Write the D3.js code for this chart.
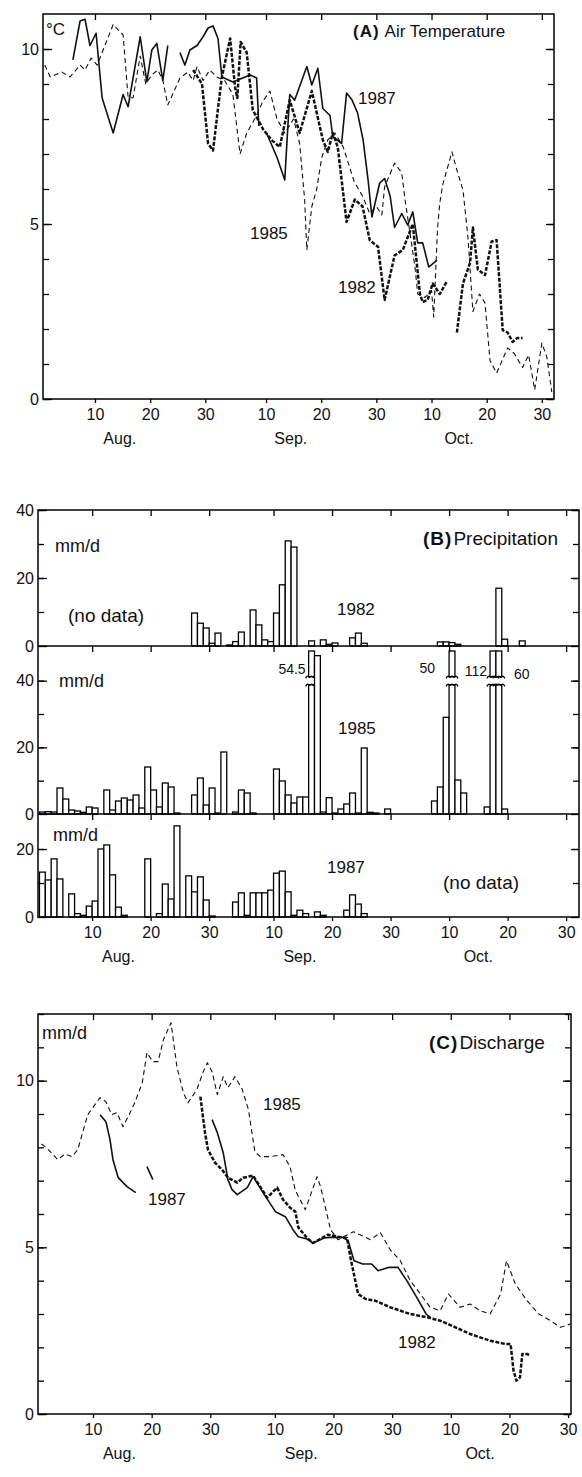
<!DOCTYPE html>
<html><head><meta charset="utf-8">
<script src="https://cdn.jsdelivr.net/npm/d3@7"></script>
<style>
body{margin:0;background:#fff}
svg{display:block}
text{font-family:"Liberation Sans",Arial,Helvetica,sans-serif;fill:#111}
</style></head>
<body><svg id="c" width="582" height="1477"></svg>
<script>
// ---------------- DATA ----------------
// day index: Aug 1 = 1, Sep 1 = 32, Oct 1 = 62
const xTickDays = [10, 20, 30, 41, 51, 61, 71, 81, 91];
const xTickLabels = ["10", "20", "30", "10", "20", "30", "10", "20", "30"];
const monthNames = ["Aug.", "Sep.", "Oct."];
const monthDays = [14.5, 45.5, 76];

// (A) Air temperature, [day, °C]; null = gap
const air1987 = [[6.0,9.69],[7.3,10.8],[8.2,10.85],[9.1,10.1],[10.2,10.45],[11.3,8.6],[13.3,7.6],[15.1,8.7],[16,8.35],[18.2,10.35],[19.4,9.06],[20.3,9.97],[21.2,10.16],[22.3,9.1],[23.2,10.1],
  null,[25.4,9.9],[26.3,9.54],[27.2,9.97],[28.5,10.1],[29.6,10.35],[30.5,10.6],[31.4,10.66],[32.3,10.3],[33,9.2],[35,9.06],[38.1,9.26],[39.3,9.17],[39.7,7.8],
  null,[41.1,7.6],[43,6.9],[44.4,6.26],[45.3,8.7],[46.2,8.54],[48.4,9.5],[49.3,8.97],[50.4,9.45],[51.3,8.3],[52.6,8.1],[53.1,7.5],[54.7,7.3],[55.6,8.74],[56.6,8.54],[57.6,8.17],[58.6,7.4],[59.5,6.26],[60.2,5.2],[61.6,6.17],[62.5,6.3],[63.5,5.8],[64.3,4.9],[65.6,5.3],[66.7,4.97],[67.6,5.35],[68.5,4.46],[69.4,4.46],[70.5,3.77],[72,3.97]];
const air1985 = [[0.9,9.54],[1.9,9.2],[4.0,9.34],[5.5,9.2],[7.3,9.54],[8.2,9.4],[9.3,9.74],[10.4,9.54],[13.3,10.7],[15.1,10.4],[16,8.63],[16.9,8.6],[18.2,9.8],[19.2,9.0],[20.3,9.26],[21.4,9.4],[22.3,9.1],[23.2,8.4],[25.4,9.17],[26.8,9.34],[27.8,9.1],[28.5,9.5],[29.6,9.1],[30.8,9.4],[32.1,9.2],[33.5,9.1],[35,8.7],[36.3,7.0],[37.5,7.6],[39.3,8.1],[40.4,8.5],[41.7,8.8],[43,8.0],[44.4,7.6],[46,8.0],[47.1,7.3],[48,5.7],[48.4,4.26],[49.3,5.5],[50.2,6.0],[51.1,6.9],[52.2,7.4],[53.5,7.6],[55,7.2],[57,6.2],[58.5,5.8],[59.8,5.3],[61,5.5],[62,5.26],[62.5,6.06],[64.3,6.74],[65.6,6.46],[66.2,5.7],[68,3.77],[68.5,3.0],[69.8,2.9],[71,3.1],[71.4,2.34],[72.1,4.9],[72.5,5.6],[73,6.1],[74.7,7.06],[75.6,6.54],[76.7,5.97],[77.6,4.63],[78.5,2.5],[79.7,3.0],[80.7,2.74],[81.6,1.1],[82.8,0.74],[84.8,1.46],[86,1.3],[87.5,0.9],[88.6,1.26],[89.7,0.26],[91,1.6],[91.9,1.2],[92.8,0.2]];
const air1982 = [[27.8,9.4],[29.4,9.0],[30.5,7.3],[31.4,7.1],[32.3,8.3],[33,9.2],[34.5,10.3],[35.4,8.9],[35.8,8.6],[36.4,10.2],[37.5,9.9],[38.6,8.26],[40.5,7.7],[42,7.4],[43.5,7.2],[45.3,8.54],[47.1,7.6],[49.3,8.8],[51.3,7.4],[52.2,7.06],[53.1,7.6],[54,7.2],[55.6,5.06],[57.1,5.7],[58.5,5.5],[59.8,4.54],[61.3,4.35],[62.5,2.83],[64.3,4.1],[65.8,4.26],[67.6,5.0],[68.9,3.0],[69.4,2.77],[70.3,2.83],[71.2,3.3],[72.5,3.0],[73.7,3.34],
  null,[75.6,1.9],[76.7,3.3],[78,3.9],[78.5,4.9],[79.4,3.7],[80.7,3.54],[81.9,4.5],[82.8,4.54],[83.9,1.97],[84.8,1.9],[85.7,1.63],[86.5,1.74],[87.5,1.74]];

// (B) Precipitation, [day, mm/d]
const precip1982 = [[27,9.7],[28,6.7],[29,5.3],[30,0.8],[31,3.8],[33,0.3],[34,1.3],[35,4.1],[37,10.6],[38,6.2],[39,1.8],[40,1.3],[41,9.7],[42,18],[43,30.9],[44,29.1],[47,1.5],[49,1.8],[50,0.5],[51,0.9],[54,2.4],[55,3.8],[56,0.8],[69,1.2],[70,1.2],[71,1.0],[72,0.5],[79,17],[80,2.0],[83,1.5]];
const precip1985 = [[1,0.6],[2,0.7],[3,0.6],[4,7.8],[5,4.5],[6,1.2],[7,0.9],[8,0.5],[9,2.1],[10,1.8],[12,7.2],[13,1.2],[14,3.9],[15,4.8],[16,4.2],[17,5.7],[18,1.8],[19,14.1],[20,7.2],[21,2.1],[22,9.3],[23,8.1],[24,0.3],[27,5.7],[28,10.8],[29,2.7],[30,7.8],[31,0.3],[32,18.6],[34,0.6],[35,7.2],[36,6.3],[37,0.3],[41,13.5],[42,9.9],[43,5.7],[44,3.3],[45,5.1],[46,5.1],[47,54.5],[48,47.5],[49,0.6],[50,4.9],[51,0.3],[52,1.5],[53,3.0],[54,6.3],[55,0.3],[56,19.8],[57,0.5],[58,0.3],[60,1.5],[68,3.9],[69,8.1],[70,29],[71,50],[72,10.2],[73,6.3],[77,2.1],[78,112],[79,60],[80,1.5]];
const precip1987 = [[1,13.2],[2,10.9],[3,17.1],[4,11.2],[6,6.8],[7,1.0],[8,0.5],[9,3.2],[10,4.7],[11,20],[12,21.2],[13,12.4],[14,2.9],[15,0.5],[19,17.1],[21,1.0],[22,9.7],[23,5.3],[24,26.8],[26,12.1],[27,7.4],[28,11.8],[29,5.0],[30,0.3],[34,4.4],[35,7.1],[36,0.5],[37,7.1],[38,7.1],[39,7.1],[40,7.9],[41,12.9],[42,13.5],[43,7.4],[44,0.5],[45,2.0],[46,1.0],[48,1.5],[49,0.5],[53,2.0],[54,6.5],[55,3.8],[56,1.0]];
const brokenLabels = [[47,"54.5"],[71,"50"],[78,"112"],[79,"60"]];

// (C) Discharge, [day, mm/d]
const q1985 = [[1.2,8.1],[2.0,8.0],[2.7,7.87],[4.0,7.63],[5.2,7.8],[6.4,7.72],[7.4,7.93],[9.1,8.98],[11.2,9.49],[12.2,9.37],[13.2,8.98],[14.1,9.04],[15.1,8.62],[16.0,8.92],[17.2,9.37],[18.4,9.94],[19.2,10.84],[20.2,10.57],[21.1,10.57],[22.0,11.23],[23.3,11.74],[24.3,10.42],[25.4,9.64],[26.2,9.34],[27.7,9.73],[28.8,10.27],[29.5,10.54],[30.3,10.27],[31.2,9.58],[32.2,10.12],[33.0,9.79],[34.2,10.12],[35.4,9.76],[36.5,9.13],[37.6,7.87],[38.5,7.72],[40.2,7.72],[42.4,7.78],[43.6,7.42],[44.5,6.7],[46.2,6.13],[48.2,7.12],[48.8,6.82],[50.5,5.53],[51.8,5.23],[54.4,5.47],[57.3,5.23],[59.0,5.44],[60.7,4.92],[62.4,4.6],[64.1,4.0],[65.8,3.6],[67.5,3.2],[69.2,3.1],[70.6,3.6],[72.6,3.2],[74.3,3.3],[76,3.1],[77.7,3.0],[79.5,3.6],[80.5,4.6],[82,3.9],[84,3.4],[86,3.0],[88,2.8],[89.7,2.6],[91.4,2.7]];
const q1987 = [[11.2,8.98],[12.2,8.77],[12.9,8.23],[13.4,7.63],[14.3,7.09],[15.8,6.82],[17.3,6.64],
  null,[19.2,7.42],[20.2,7.03],
  null,[30.3,8.83],[31.2,8.44],[32.2,7.84],[33.0,7.03],[33.7,6.73],[34.6,6.58],[36.3,6.79],[37.3,7.12],[39.0,6.64],[41.1,6.07],[42.8,5.92],[44.1,5.53],[45.0,5.32],[46.5,5.25],[47.5,5.13],[49.4,5.28],[50.5,5.3],[52.5,5.3],[53.5,5.2],[54.5,4.6],[56,4.5],[57.5,4.5],[58.6,4.3],[60.5,4.4],[62,4.4],[63.5,4.0],[65.2,3.5],[66.8,3.0],[67.5,2.9]];
const q1982 = [[28.3,9.52],[29.1,8.44],[29.6,7.93],[30.8,7.54],[32.0,7.33],[33.0,7.09],[34.6,6.94],[35.6,7.09],[37.3,7.15],[38.5,6.82],[39.7,6.49],[41.4,6.79],[42.4,6.43],[43.6,6.19],[44.5,6.07],[45.0,5.6],[46.5,5.28],[47.5,5.13],[50.1,5.38],[51.8,5.32],[53.3,5.28],[54.0,4.6],[54.6,4.1],[55.2,3.6],[56.5,3.45],[58.1,3.4],[60.7,3.2],[64.1,3.0],[67,2.9],[69.2,2.8],[71.8,2.6],[74.3,2.4],[77.7,2.2],[80.3,2.1],[81.2,2.1],[81.7,1.3],[82.2,1.0],[82.8,1.1],[83.2,1.8],[84.0,1.8],[84.6,1.75]];

// ---------------- DRAWING ----------------
const svg = d3.select("#c");
const STYLE = {
  solid: {w: 1.6, dash: null},
  thin: {w: 1.1, dash: "5,3.5"},
  heavy: {w: 2.5, dash: "4,1.6"}
};

function styleAxis(sel) {
  sel.select(".domain").remove();
  sel.selectAll("line").attr("stroke", "#000").attr("stroke-width", 1.3);
  sel.selectAll("text").attr("font-size", 16).attr("fill", "#111")
     .attr("font-family", "'Liberation Sans', Arial, sans-serif");
  sel.attr("font-family", null).attr("font-size", null);
}

function yTicks(y, x0, x1, minor, major) {
  svg.append("g").attr("transform", `translate(${x0},0)`)
    .call(d3.axisLeft(y).tickValues(minor).tickSize(-6).tickFormat("")).call(styleAxis);
  svg.append("g").attr("transform", `translate(${x0},0)`)
    .call(d3.axisLeft(y).tickValues(major).tickSize(-9).tickPadding(4).tickFormat(d3.format("d"))).call(styleAxis);
  svg.append("g").attr("transform", `translate(${x1},0)`)
    .call(d3.axisRight(y).tickValues(minor).tickSize(-6).tickFormat("")).call(styleAxis);
  svg.append("g").attr("transform", `translate(${x1},0)`)
    .call(d3.axisRight(y).tickValues(major).tickSize(-8).tickFormat("")).call(styleAxis);
}
function topTicks(x, yy) {
  svg.append("g").attr("transform", `translate(0,${yy})`)
    .call(d3.axisTop(x).tickValues(xTickDays).tickSize(-6).tickFormat("")).call(styleAxis);
}
function bottomAxis(x, yy) {
  svg.append("g").attr("transform", `translate(0,${yy})`)
    .call(d3.axisBottom(x).tickValues(xTickDays).tickSize(4).tickPadding(6).tickFormat((d, i) => xTickLabels[i])).call(styleAxis);
  svg.append("g").selectAll("text").data(monthNames).join("text")
    .attr("x", (d, i) => x(monthDays[i])).attr("y", yy + 45)
    .attr("text-anchor", "middle").attr("font-size", 16).text(d => d);
}
function frame(x0, y0, x1, y1) {
  svg.append("rect").attr("x", x0).attr("y", y0).attr("width", x1 - x0).attr("height", y1 - y0)
    .attr("fill", "none").attr("stroke", "#000").attr("stroke-width", 1.5);
}
function series(x, y, data, st) {
  const line = d3.line().defined(p => p !== null).x(p => x(p[0])).y(p => y(p[1]));
  const p = svg.append("path").attr("d", line(data)).attr("fill", "none")
    .attr("stroke", "#111").attr("stroke-width", st.w).attr("stroke-linejoin", "round");
  if (st.dash) p.attr("stroke-dasharray", st.dash);
}
function label(x, y, txt, size, anchor) {
  return svg.append("text").attr("x", x).attr("y", y).attr("font-size", size)
    .attr("text-anchor", anchor || "start").text(txt);
}
function title(x, y, tag, rest, size, gap) {
  const t = svg.append("text").attr("x", x).attr("y", y).attr("font-size", size);
  t.append("tspan").attr("font-weight", 900).attr("letter-spacing", 1).text(tag);
  t.append("tspan").attr("dx", gap).text(rest);
}

// ----- Panel A -----
const xA = d3.scaleLinear().domain([0.58, 93.2]).range([43, 554]);
const yA = d3.scaleLinear().domain([0, 11]).range([399, 14]);
series(xA, yA, air1985, STYLE.thin);
series(xA, yA, air1982, STYLE.heavy);
series(xA, yA, air1987, STYLE.solid);
frame(43, 14, 554, 399);
yTicks(yA, 43, 554, d3.range(0, 11), [0, 5, 10]);
topTicks(xA, 14);
bottomAxis(xA, 399);
label(46, 35, "°C", 17);
title(353, 37, "(A)", "Air Temperature", 17, 5);
label(358, 104, "1987", 17);
label(250, 239, "1985", 17);
label(338, 293, "1982", 17);

// ----- Panel B -----
const xB = d3.scaleLinear().domain([0.75, 93.2]).range([38, 579]);
const yB82 = d3.scaleLinear().domain([0, 40]).range([646, 510]);
const yB85 = d3.scaleLinear().domain([0, 50.4]).range([814, 646]);
const yB87 = d3.scaleLinear().domain([0, 30.3]).range([917, 814]);

function bars(data, y, breakAt) {
  const [vMin, vMax] = y.domain();
  const base = y(0);
  const g = svg.append("g");
  data.forEach(([d, v]) => {
    const x0 = xB(d), w = xB(d + 1) - xB(d);
    if (v <= vMax - 1) {
      g.append("rect").attr("x", x0).attr("y", y(v)).attr("width", w).attr("height", base - y(v))
        .attr("fill", "#fff").attr("stroke", "#000").attr("stroke-width", 1.3);
    } else {
      const top = y(vMax) + 5, yb = y(breakAt);
      g.append("rect").attr("x", x0).attr("y", yb + 4).attr("width", w).attr("height", base - yb - 4)
        .attr("fill", "#fff").attr("stroke", "#000").attr("stroke-width", 1.3);
      g.append("rect").attr("x", x0).attr("y", top).attr("width", w).attr("height", yb - 4 - top)
        .attr("fill", "#fff").attr("stroke", "#000").attr("stroke-width", 1.3);
      [yb - 4, yb + 4].forEach(yy => {
        const pts = d3.range(0, 7).map(i => [x0 - 3 + i * (w + 6) / 6, yy + (i % 2 ? -1.6 : 1.6)]);
        g.append("path").attr("d", d3.line().curve(d3.curveBasis)(pts))
          .attr("fill", "none").attr("stroke", "#000").attr("stroke-width", 1.4);
      });
    }
  });
}
bars(precip1982, yB82, 0);
bars(precip1985, yB85, 40);
bars(precip1987, yB87, 0);

frame(38, 510, 579, 917);
svg.append("line").attr("x1", 38).attr("x2", 579).attr("y1", 646).attr("y2", 646).attr("stroke", "#000").attr("stroke-width", 1.5);
svg.append("line").attr("x1", 38).attr("x2", 579).attr("y1", 814).attr("y2", 814).attr("stroke", "#000").attr("stroke-width", 1.5);
yTicks(yB82, 38, 579, [10, 20, 30, 40], [0, 20, 40]);
yTicks(yB85, 38, 579, [10, 20, 30, 40], [0, 20, 40]);
yTicks(yB87, 38, 579, [10, 20], [0, 20]);
topTicks(xB, 510);
topTicks(xB, 646);
topTicks(xB, 814);
bottomAxis(xB, 917);

label(55, 552, "mm/d", 18);
label(68, 622, "(no data)", 19);
label(337, 615, "1982", 17);
title(423, 545, "(B)", "Precipitation", 19, 1);
label(59, 687, "mm/d", 18);
label(338, 734, "1985", 17);
label(53, 841, "mm/d", 18);
label(327, 873, "1987", 17);
label(443, 889, "(no data)", 19);
// break values
const blPos = {47: ["end", -3, 674], 71: ["end", -14, 673], 78: ["end", -3, 676], 79: ["start", 18, 679]};
brokenLabels.forEach(([d, t]) => {
  const [anc, dx, yy] = blPos[d];
  label(xB(d) + dx, yy, t, 14, anc);
});

// ----- Panel C -----
const xC = d3.scaleLinear().domain([0.62, 91.5]).range([38, 571]);
const yC = d3.scaleLinear().domain([0, 12]).range([1414, 1014]);
series(xC, yC, q1985, STYLE.thin);
series(xC, yC, q1987, STYLE.solid);
series(xC, yC, q1982, STYLE.heavy);
frame(38, 1014, 571, 1414);
yTicks(yC, 38, 571, d3.range(0, 13), [0, 5, 10]);
topTicks(xC, 1014);
bottomAxis(xC, 1414);
label(42, 1039, "mm/d", 18);
title(429, 1049, "(C)", "Discharge", 19, 1);
label(263, 1110, "1985", 17);
label(148, 1205, "1987", 17);
label(398, 1348, "1982", 17);
</script></body></html>
